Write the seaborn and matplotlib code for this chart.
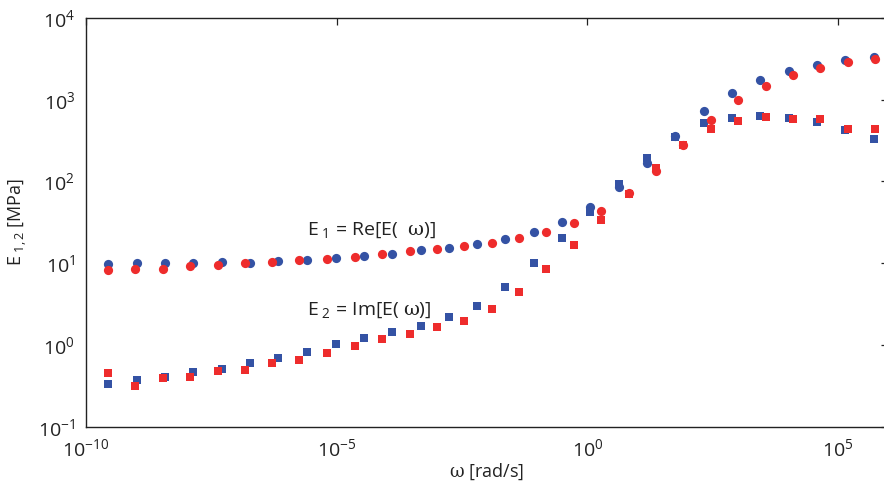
import numpy as np
import pandas as pd
import matplotlib
matplotlib.use("Agg")
import matplotlib.pyplot as plt
import seaborn as sns
from matplotlib.ticker import LogLocator, NullLocator, LogFormatterSciNotation

# ---- data (log10 of omega) ----
log_omega_blue = [-9.555, -8.989, -8.425, -7.860, -7.294, -6.730, -6.166, -5.599,
                  -5.021, -4.457, -3.892, -3.326, -2.762, -2.197, -1.631, -1.067,
                  -0.508, 0.064, 0.628, 1.193, 1.759, 2.323, 2.887, 3.454,
                  4.018, 4.582, 5.148, 5.713]
log_omega_red = [-9.567, -9.017, -8.471, -7.920, -7.368, -6.830, -6.285, -5.743,
                 -5.188, -4.636, -4.092, -3.539, -3.001, -2.457, -1.910, -1.366,
                 -0.814, -0.269, 0.283, 0.828, 1.372, 1.918, 2.463, 3.015,
                 3.559, 4.104, 4.650, 5.200, 5.747]

E1_blue = [9.70, 9.98, 9.98, 10.07, 10.27, 10.07, 10.73, 10.95, 11.47, 12.25,
           12.96, 14.31, 15.49, 17.1, 19.6, 23.8, 32.2, 49.1, 86.3, 166.8,
           360, 722, 1199, 1744, 2248, 2684, 3063, 3306]
E1_red = [8.33, 8.57, 8.61, 9.24, 9.59, 9.93, 10.27, 10.89, 11.27, 12.02,
          12.96, 13.99, 15.06, 16.4, 17.9, 20.2, 23.8, 30.9, 43.9, 71.7,
          135.5, 279, 565, 993, 1485, 1992, 2466, 2896, 3179]
E2_blue = [0.336, 0.372, 0.409, 0.467, 0.513, 0.607, 0.692, 0.828, 1.02, 1.23,
           1.45, 1.71, 2.17, 3.01, 5.16, 10.14, 20.2, 42.7, 92.3, 192,
           350, 524, 603, 627, 603, 530, 430, 328]
E2_red = [0.458, 0.318, 0.394, 0.402, 0.476, 0.494, 0.601, 0.655, 0.804, 0.963,
          1.17, 1.35, 1.64, 1.99, 2.75, 4.48, 8.45, 16.6, 33.8, 70.3,
          145, 279, 438, 554, 610, 581, 581, 435, 435]

BLUE = "#3452A4"
RED = "#EE2C2C"

sns.set_theme(style="white")
plt.rcParams["font.family"] = ["Open Sans", "DejaVu Sans"]
plt.rcParams["mathtext.fontset"] = "custom"
plt.rcParams["mathtext.rm"] = "Open Sans"
plt.rcParams["mathtext.it"] = "Open Sans:italic"
plt.rcParams["mathtext.bf"] = "Open Sans:bold"
plt.rcParams["mathtext.cal"] = "DejaVu Serif"
plt.rcParams["mathtext.default"] = "rm"

w_b = 10.0 ** np.array(log_omega_blue)
w_r = 10.0 ** np.array(log_omega_red)
df_b1 = pd.DataFrame({"omega": w_b, "E": E1_blue})
df_r1 = pd.DataFrame({"omega": w_r, "E": E1_red})
df_b2 = pd.DataFrame({"omega": w_b, "E": E2_blue})
df_r2 = pd.DataFrame({"omega": w_r, "E": E2_red})

fig = plt.figure(figsize=(8.84, 4.82), dpi=100)
ax = fig.add_axes([86 / 884, 1 - 426.7 / 482, (888 - 86) / 884, (426.7 - 18) / 482])
ax.set_xscale("log")
ax.set_yscale("log")

sns.scatterplot(data=df_b2, x="omega", y="E", marker="s", s=30, color=BLUE,
                linewidth=0, ax=ax, zorder=3)
sns.scatterplot(data=df_r2, x="omega", y="E", marker="s", s=30, color=RED,
                linewidth=0, ax=ax, zorder=3)
sns.scatterplot(data=df_b1, x="omega", y="E", marker="o", s=44, color=BLUE,
                linewidth=0, ax=ax, zorder=4)
sns.scatterplot(data=df_r1, x="omega", y="E", marker="o", s=44, color=RED,
                linewidth=0, ax=ax, zorder=4)

ax.set_xlim(1e-10, 1e6)
ax.set_ylim(1e-1, 1e4)

ax.xaxis.set_major_formatter(LogFormatterSciNotation())
ax.set_xticks([1e-10, 1e-5, 1e0, 1e5])
ax.xaxis.set_minor_locator(NullLocator())
ax.yaxis.set_major_locator(LogLocator(base=10, numticks=10))
ax.yaxis.set_minor_locator(LogLocator(base=10, subs=np.arange(2, 10), numticks=10))

ax.tick_params(axis="both", which="major", direction="in", length=5, width=0.9,
               top=True, right=True, labelsize=14, colors="#222222")
ax.tick_params(axis="x", which="major", pad=8)
ax.tick_params(axis="y", which="major", pad=8)
ax.tick_params(axis="both", which="minor", direction="in", length=2.5, width=0.7,
               top=True, right=True)
for sp in ax.spines.values():
    sp.set_visible(True)
    sp.set_color("#222222")
    sp.set_linewidth(1.0)

ax.set_xlabel(r"$\mathcal{\omega}$ [rad/s]", fontsize=13, color="#222222", labelpad=1)
ax.set_ylabel(r"E$_{\ 1,2}$ [MPa]", fontsize=13, color="#222222", labelpad=6)

ax.text(10 ** -5.6, 10 ** 1.40, r"E$_{\ 1}$ = Re[E(  $\mathcal{\omega}$)]",
        fontsize=14, color="#222222", va="center", ha="left")
ax.text(10 ** -5.6, 10 ** 0.42, r"E$_{\ 2}$ = Im[E( $\mathcal{\omega}$)]",
        fontsize=14, color="#222222", va="center", ha="left")

fig.savefig("out.png", dpi=100)
